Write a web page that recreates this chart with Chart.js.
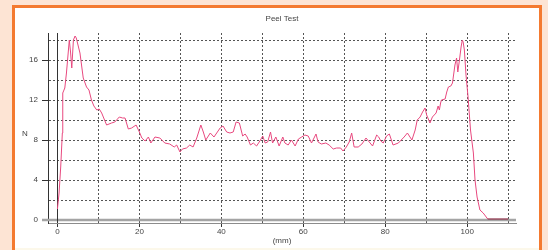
<!DOCTYPE html>
<html>
<head>
<meta charset="utf-8">
<script src="https://cdn.jsdelivr.net/npm/chart.js@4/dist/chart.umd.min.js"></script>
<style>
  html, body { margin: 0; padding: 0; }
  body { width: 548px; height: 250px; background: #fde4d4; position: relative; overflow: hidden; }
  #frame { position: absolute; left: 12px; top: 5px; width: 530px; height: 270px; box-sizing: border-box;
           border: 3px solid #f47a30; background: linear-gradient(to bottom, #ffffff 0px, #ffffff 240px, #fcf8ea 240px); }
  #c { position: absolute; left: 0; top: 0; }
</style>
</head>
<body>
<div id="frame"></div>
<canvas id="c" width="548" height="250"></canvas>
<script>
// Peel test curve: displacement (mm) and force (N)
const distanceMm = [
  0, 0.4, 0.8, 1.2, 1.3, 1.8, 2.2, 2.9, 3.2, 3.5, 3.9, 4.3, 4.6, 5.5, 6.3, 7.1, 7.7, 8.3, 8.9, 9.6,
  10.2, 10.8, 12.0, 13.2, 14.0, 15.1, 15.9, 16.5, 17.3, 18.1, 19.2, 20.0, 20.6, 21.4, 22.2, 22.8, 23.8, 25.0, 26.2, 27.4,
  28.5, 29.1, 29.9, 30.5, 31.5, 32.3, 33.1, 34.0, 35.0, 35.6, 36.2, 37.3, 38.2, 39.7, 40.4, 41.3, 42.1, 42.9, 43.6, 44.4,
  45.2, 45.8, 46.3, 47.1, 47.8, 48.6, 49.4, 50.1, 50.7, 51.3, 52.0, 52.5, 53.3, 54.1, 55.0, 55.5, 56.3, 57.1, 58.0, 58.8,
  59.6, 60.4, 61.2, 62.0, 63.1, 63.6, 64.4, 65.5, 66.3, 67.3, 68.1, 69.1, 69.7, 70.5, 71.2, 71.8, 72.4, 73.4, 74.3, 75.3,
  76.1, 76.9, 77.9, 78.4, 78.9, 79.5, 80.3, 81.0, 81.9, 83.2, 84.6, 85.4, 86.5, 87.3, 87.8, 88.5, 89.1, 89.7, 90.1, 90.9,
  91.5, 92.4, 92.9, 93.2, 93.5, 93.7, 94.6, 95.0, 95.4, 96.0, 96.4, 97.0, 97.4, 97.7, 98.1, 98.5, 98.8, 99.0, 99.3, 99.7,
  100.2, 100.8, 101.5, 101.9, 102.4, 103.1, 103.9, 105.0, 110.0
];
const forceN = [
  1.1, 2.7, 5.3, 8.7, 12.7, 13.2, 14.7, 18.0, 16.8, 15.2, 18.0, 18.4, 18.2, 16.7, 14.2, 13.3, 13.0, 12.0, 11.4, 11.0,
  11.1, 10.7, 9.5, 9.7, 9.8, 10.3, 10.2, 10.2, 9.1, 9.2, 9.5, 8.8, 8.2, 7.9, 8.3, 7.7, 8.3, 8.2, 7.7, 7.6,
  7.3, 7.5, 6.8, 7.1, 7.2, 7.5, 7.3, 8.2, 9.5, 8.8, 8.0, 8.7, 8.3, 9.2, 9.4, 8.8, 8.7, 8.8, 9.8, 9.7,
  8.4, 8.6, 8.3, 7.5, 7.7, 7.4, 7.9, 8.4, 7.7, 7.8, 8.8, 7.7, 8.3, 7.4, 8.3, 7.7, 7.5, 8.0, 7.4, 8.1,
  8.3, 8.5, 8.4, 7.7, 8.6, 7.8, 7.6, 7.7, 7.5, 7.1, 7.2, 7.2, 6.9, 7.3, 7.8, 8.7, 7.3, 7.3, 7.6, 8.2,
  7.8, 7.4, 8.5, 8.3, 7.9, 7.7, 8.4, 8.6, 7.5, 7.7, 8.3, 8.7, 8.0, 9.0, 10.0, 10.3, 10.8, 11.2, 10.5, 9.7,
  10.3, 10.7, 11.4, 11.0, 11.7, 12.0, 12.1, 12.8, 13.3, 13.4, 13.7, 15.5, 16.2, 14.8, 16.0, 17.3, 18.0, 17.8, 17.0, 14.5,
  12.3, 9.0, 6.7, 4.0, 2.3, 1.0, 0.7, 0.1, 0.1
];
const xTickValues = [0, 10, 20, 30, 40, 50, 60, 70, 80, 90, 100, 110];
const yTickValues = [0, 2, 4, 6, 8, 10, 12, 14, 16, 18];
const chartTitle = 'Peel Test';
const xAxisTitle = '(mm)';
const yAxisTitle = 'N';

const points = distanceMm.map((x, i) => ({ x: x, y: forceN[i] }));
const FONT = "'Liberation Sans', Arial, sans-serif";
const TEXT = '#444444';
const GRID = '#555555';

const refLines = {
  id: 'refLines',
  beforeDatasetsDraw(chart) {
    const { ctx, chartArea, scales } = chart;
    const xs = scales.x, ys = scales.y;
    ctx.save();
    // zero force line (thick grey)
    const y0 = Math.round(ys.getPixelForValue(0));
    ctx.strokeStyle = '#a4a4a4';
    ctx.lineWidth = 2.5;
    ctx.beginPath();
    ctx.moveTo(chartArea.left - 6, y0);
    ctx.lineTo(chartArea.right, y0);
    ctx.stroke();
    // zero displacement line (solid dark)
    const x0 = Math.round(xs.getPixelForValue(0)) + 0.5;
    ctx.strokeStyle = '#333333';
    ctx.lineWidth = 1;
    ctx.beginPath();
    ctx.moveTo(x0, chartArea.top);
    ctx.lineTo(x0, chartArea.bottom);
    ctx.stroke();
    ctx.restore();
  },
  afterDraw(chart) {
    const { ctx, scales } = chart;
    ctx.save();
    ctx.font = '8px ' + FONT;
    ctx.fillStyle = TEXT;
    ctx.textAlign = 'center';
    ctx.textBaseline = 'middle';
    ctx.fillText(yAxisTitle, 25, scales.y.getPixelForValue(8) - 6);
    ctx.restore();
  }
};

new Chart(document.getElementById('c'), {
  type: 'line',
  data: {
    datasets: [{
      data: points,
      borderColor: '#e8497f',
      borderWidth: 1,
      pointRadius: 0,
      tension: 0,
      fill: false,
      segment: {
        borderColor: ctx => (ctx.p0.parsed.x >= 105 ? '#8a1836' : undefined)
      }
    }]
  },
  options: {
    responsive: false,
    animation: false,
    events: [],
    layout: { padding: { left: 0, right: 32, top: 0, bottom: 0 } },
    plugins: {
      legend: { display: false },
      tooltip: { enabled: false },
      title: {
        display: true,
        text: chartTitle,
        fullSize: false,
        color: TEXT,
        font: { family: FONT, size: 8, weight: 'normal', lineHeight: 1 },
        padding: { top: 15, bottom: 10 }
      }
    },
    scales: {
      x: {
        type: 'linear',
        min: -2.3,
        max: 111.9,
        afterFit: s => { s.height = 27; },
        afterBuildTicks: s => { s.ticks = xTickValues.map(v => ({ value: v })); },
        ticks: {
          autoSkip: false,
          maxRotation: 0,
          padding: 1,
          color: TEXT,
          font: { family: FONT, size: 8, lineHeight: 1 },
          callback: v => (v % 20 === 0 && v <= 100 ? String(v) : '')
        },
        grid: {
          color: c => (c.tick && c.tick.value === 0 ? 'rgba(0,0,0,0)' : GRID),
          lineWidth: 1,
          tickLength: 4,
          tickColor: c => (c.tick && c.tick.value % 20 === 0 && c.tick.value <= 100 ? '#333333' : 'rgba(0,0,0,0)')
        },
        border: { display: true, color: '#8c8c8c', width: 1, dash: [2, 2] },
        title: {
          display: true,
          text: xAxisTitle,
          color: TEXT,
          font: { family: FONT, size: 8, lineHeight: 1 },
          padding: { top: 0, bottom: 5 }
        }
      },
      y: {
        type: 'linear',
        min: -0.3,
        max: 18.7,
        afterFit: s => { s.width = 48; },
        afterBuildTicks: s => { s.ticks = yTickValues.map(v => ({ value: v })); },
        ticks: {
          autoSkip: false,
          padding: 4,
          color: TEXT,
          font: { family: FONT, size: 8, lineHeight: 1 },
          callback: v => (v % 4 === 0 ? String(v) : '')
        },
        grid: {
          color: c => (c.tick && c.tick.value === 0 ? 'rgba(0,0,0,0)' : GRID),
          lineWidth: 1,
          tickLength: 6,
          tickColor: c => (c.tick && c.tick.value % 4 === 0 && c.tick.value !== 0 ? '#333333' : 'rgba(0,0,0,0)')
        },
        border: { display: true, color: '#333333', width: 1, dash: [2, 2] }
      }
    }
  },
  plugins: [refLines]
});
</script>
</body>
</html>
